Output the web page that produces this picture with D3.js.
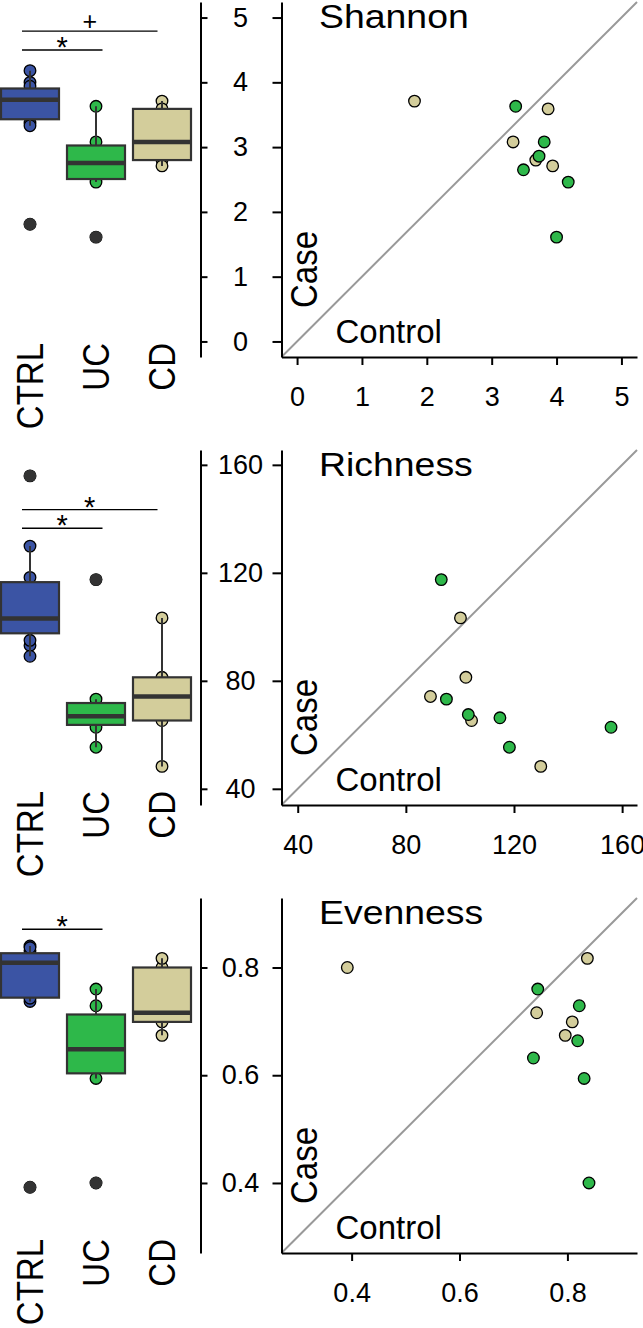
<!DOCTYPE html>
<html>
<head>
<meta charset="utf-8">
<script src="https://cdn.jsdelivr.net/npm/d3@7"></script>
<style>
  body { margin: 0; background: #fff; }
  svg { display: block; font-family: "Liberation Sans", Arial, sans-serif; }
</style>
</head>
<body>
<svg id="chart" width="643" height="1328"></svg>
<script>
// groups and colours
const groups = ["CTRL", "UC", "CD"];
const groupColors = ["#3b54a4", "#2eb84a", "#d3cd9b"];

// paired samples: control value (x) vs case value (y)
const shannonUcControl = [3.37, 3.81, 3.73, 3.49, 4.18, 4.00];
const shannonUcCase    = [3.63, 3.08, 2.86, 2.65, 2.46, 1.61];
const shannonCdControl = [1.81, 3.87, 3.33, 3.68, 3.94];
const shannonCdCase    = [3.71, 3.59, 3.08, 2.80, 2.71];

const richnessUcControl = [93.1, 95.0, 103.1, 114.8, 118.3, 155.9];
const richnessUcCase    = [117.5, 73.2, 67.5, 66.3, 55.4, 62.8];
const richnessCdControl = [100.2, 102.2, 89.1, 104.3, 129.9];
const richnessCdCase    = [103.3, 81.3, 74.2, 65.3, 48.3];

const evennessUcControl = [0.745, 0.822, 0.819, 0.737, 0.831, 0.840];
const evennessUcCase    = [0.760, 0.729, 0.664, 0.632, 0.594, 0.400];
const evennessCdControl = [0.392, 0.837, 0.743, 0.809, 0.796];
const evennessCdCase    = [0.800, 0.817, 0.716, 0.699, 0.674];

// axis ranges and ticks
const shannonDomain = [-0.24, 5.24];
const shannonTicks = [0, 1, 2, 3, 4, 5];
const richnessDomain = [34, 165.5];
const richnessTicks = [40, 80, 120, 160];
const evennessDomain = [0.27, 0.929];
const evennessTicks = [0.4, 0.6, 0.8];

// significance brackets: [from, to, label, height in data units]
const shannonSig = [["CTRL", "UC", "*", 4.5], ["CTRL", "CD", "+", 4.79]];
const richnessSig = [["CTRL", "UC", "*", 136.5], ["CTRL", "CD", "*", 143.4]];
const evennessSig = [["CTRL", "UC", "*", 0.871]];

const panels = [
  { title: "Shannon", top: 2, domain: shannonDomain, ticks: shannonTicks, fmt: d3.format("d"),
    uc: [shannonUcControl, shannonUcCase], cd: [shannonCdControl, shannonCdCase], sig: shannonSig },
  { title: "Richness", top: 450, domain: richnessDomain, ticks: richnessTicks, fmt: d3.format("d"),
    uc: [richnessUcControl, richnessUcCase], cd: [richnessCdControl, richnessCdCase], sig: richnessSig },
  { title: "Evenness", top: 898, domain: evennessDomain, ticks: evennessTicks, fmt: d3.format(".1f"),
    uc: [evennessUcControl, evennessUcCase], cd: [evennessCdControl, evennessCdCase], sig: evennessSig }
];

const panelH = 355;
const boxW = 58;
const dark = "#333333";
const stretch = 1.1; // glyphs in the figure are a bit wider than Liberation Sans

const svg = d3.select("#chart");
const color = d3.scaleOrdinal().domain(groups).range(groupColors);
const xBox = d3.scalePoint().domain(groups).range([30, 162]);

function boxStats(vals) {
  const s = vals.slice().sort(d3.ascending);
  const q1 = d3.quantileSorted(s, 0.25);
  const med = d3.quantileSorted(s, 0.5);
  const q3 = d3.quantileSorted(s, 0.75);
  const iqr = q3 - q1;
  const lo = d3.min(s.filter(v => v >= q1 - 1.5 * iqr));
  const hi = d3.max(s.filter(v => v <= q3 + 1.5 * iqr));
  const out = s.filter(v => v < lo || v > hi);
  return { q1, med, q3, lo, hi, out };
}

function styleAxis(g) {
  g.attr("font-family", null).attr("font-size", null);
  g.selectAll("path, line").attr("stroke", "#000").attr("stroke-width", 2);
  g.selectAll("text").attr("font-size", 27).attr("fill", "#000");
}

panels.forEach(p => {
  const bottom = p.top + panelH;
  const y = d3.scaleLinear().domain(p.domain).range([bottom, p.top]);
  const x = d3.scaleLinear().domain(p.domain).range([281.5, 637]);
  const g = svg.append("g");

  // ---- boxplot side ----
  const groupVals = {
    CTRL: p.uc[0].concat(p.cd[0]),
    UC: p.uc[1],
    CD: p.cd[1]
  };

  groups.forEach(k => {
    const cx = xBox(k);
    const vals = groupVals[k];
    const st = boxStats(vals);
    const bg = g.append("g");

    bg.selectAll("circle.pt")
      .data(vals)
      .join("circle")
      .attr("class", "pt")
      .attr("cx", cx)
      .attr("cy", d => y(d))
      .attr("r", 5.8)
      .attr("fill", color(k))
      .attr("stroke", "#000")
      .attr("stroke-width", 1.3);

    bg.append("line")
      .attr("x1", cx).attr("x2", cx)
      .attr("y1", y(st.lo)).attr("y2", y(st.hi))
      .attr("stroke", dark).attr("stroke-width", 2);

    bg.append("rect")
      .attr("x", cx - boxW / 2)
      .attr("width", boxW)
      .attr("y", y(st.q3))
      .attr("height", y(st.q1) - y(st.q3))
      .attr("fill", color(k))
      .attr("stroke", dark)
      .attr("stroke-width", 2.2);

    bg.append("line")
      .attr("x1", cx - boxW / 2).attr("x2", cx + boxW / 2)
      .attr("y1", y(st.med)).attr("y2", y(st.med))
      .attr("stroke", dark).attr("stroke-width", 4.5);

    bg.selectAll("circle.out")
      .data(st.out)
      .join("circle")
      .attr("class", "out")
      .attr("cx", cx)
      .attr("cy", d => y(d))
      .attr("r", 6.2)
      .attr("fill", dark);

    g.append("text")
      .attr("transform", `translate(${cx + 13},${bottom - 14}) scale(${stretch},1) rotate(-90)`)
      .attr("text-anchor", "end")
      .attr("font-size", 33)
      .text(k);
  });

  // significance brackets
  p.sig.forEach(([a, b, lab, v]) => {
    const x1 = xBox(a) - 8;
    const x2 = xBox(b) + (b === "UC" ? 6.5 : -4.5);
    g.append("line")
      .attr("x1", x1).attr("x2", x2)
      .attr("y1", y(v)).attr("y2", y(v))
      .attr("stroke", "#000").attr("stroke-width", 1.4);
    g.append("text")
      .attr("x", (x1 + x2) / 2)
      .attr("y", y(v) + (lab === "*" ? 7 : -1))
      .attr("text-anchor", "middle")
      .attr("font-size", lab === "*" ? 29 : 25)
      .text(lab);
  });

  // boxplot axis (ticks only)
  g.append("g")
    .attr("transform", "translate(200.5,0)")
    .call(d3.axisRight(y).tickValues(p.ticks).tickSize(7).tickSizeOuter(0).tickFormat(""))
    .call(styleAxis);

  // ---- scatter side ----
  g.append("line")
    .attr("x1", x(p.domain[0])).attr("y1", y(p.domain[0]))
    .attr("x2", x(p.domain[1])).attr("y2", y(p.domain[1]))
    .attr("stroke", "#999").attr("stroke-width", 2);

  const pts = p.cd[0].map((c, i) => ({ c, v: p.cd[1][i], k: "CD" }))
    .concat(p.uc[0].map((c, i) => ({ c, v: p.uc[1][i], k: "UC" })));

  g.append("g").selectAll("circle")
    .data(pts)
    .join("circle")
    .attr("cx", d => x(d.c))
    .attr("cy", d => y(d.v))
    .attr("r", 5.8)
    .attr("fill", d => color(d.k))
    .attr("stroke", "#000")
    .attr("stroke-width", 1.3);

  g.append("g")
    .attr("transform", "translate(281.5,0)")
    .call(d3.axisLeft(y).tickValues(p.ticks).tickSize(9).tickSizeOuter(0).tickFormat(p.fmt))
    .call(styleAxis)
    .call(a => a.selectAll("text").attr("x", -41).attr("text-anchor", "middle"));

  g.append("g")
    .attr("transform", `translate(0,${bottom})`)
    .call(d3.axisBottom(x).tickValues(p.ticks).tickSize(8).tickSizeOuter(0).tickPadding(22).tickFormat(p.fmt))
    .call(styleAxis);

  g.append("text")
    .attr("transform", `translate(319,${p.top + 26}) scale(${stretch},1)`)
    .attr("font-size", 34)
    .text(p.title);

  g.append("text")
    .attr("x", 335.5).attr("y", bottom - 14)
    .attr("font-size", 33)
    .text("Control");

  g.append("text")
    .attr("transform", `translate(317,${bottom - 49}) scale(${stretch},1) rotate(-90)`)
    .attr("font-size", 33)
    .text("Case");
});
</script>
</body>
</html>
